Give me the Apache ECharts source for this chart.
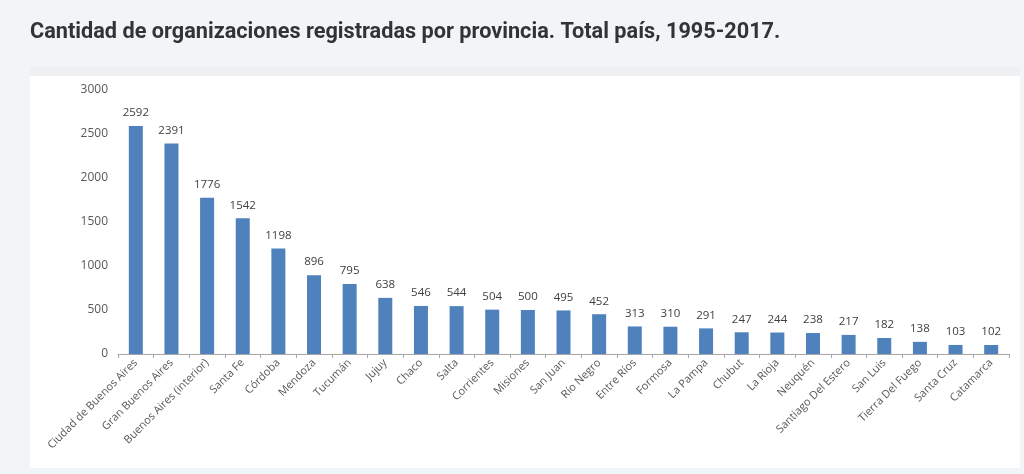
<!DOCTYPE html>
<html>
<head>
<meta charset="utf-8">
<script src="https://cdn.jsdelivr.net/npm/echarts@6/dist/echarts.min.js"></script>
<style>
  html, body { margin: 0; padding: 0; background: #f2f5f8; }
  #chart { width: 1024px; height: 474px; }
</style>
</head>
<body>
<div id="chart"></div>
<script>
// Organizaciones registradas por provincia, 1995-2017
const provincias = [
  'Ciudad de Buenos Aires', 'Gran Buenos Aires', 'Buenos Aires (interior)', 'Santa Fe',
  'Córdoba', 'Mendoza', 'Tucumán', 'Jujuy', 'Chaco', 'Salta', 'Corrientes', 'Misiones',
  'San Juan', 'Río Negro', 'Entre Ríos', 'Formosa', 'La Pampa', 'Chubut', 'La Rioja',
  'Neuquén', 'Santiago Del Estero', 'San Luis', 'Tierra Del Fuego', 'Santa Cruz', 'Catamarca'
];
const organizaciones = [
  2592, 2391, 1776, 1542, 1198, 896, 795, 638, 546, 544, 504, 500,
  495, 452, 313, 310, 291, 247, 244, 238, 217, 182, 138, 103, 102
];
const ejeYTicks = [0, 500, 1000, 1500, 2000, 2500, 3000];

const chart = echarts.init(document.getElementById('chart'), null, { renderer: 'canvas' });
const labelFont = 'Open Sans, Lato, sans-serif';

chart.setOption({
  backgroundColor: '#f2f5f8',
  animation: false,
  title: {
    text: 'Cantidad de organizaciones registradas por provincia. Total país, 1995-2017.',
    left: 25,
    top: 17,
    textStyle: { fontFamily: 'Roboto, sans-serif', fontWeight: 'bold', fontSize: 21.7, color: '#333333' }
  },
  graphic: [
    { type: 'rect', left: 30, top: 67, shape: { width: 990, height: 9 }, style: { fill: '#eef0f2' }, silent: true },
    { type: 'rect', left: 30, top: 76, shape: { width: 990, height: 392 }, style: { fill: '#ffffff' }, silent: true, z: -1 }
  ],
  grid: { left: 118, right: 15, top: 90, bottom: 120, containLabel: false },
  xAxis: {
    type: 'category',
    data: provincias,
    axisLine: { lineStyle: { color: '#a6a6a6', width: 1 } },
    axisTick: { show: true, alignWithLabel: false, length: 4, lineStyle: { color: '#a6a6a6' } },
    axisLabel: {
      interval: 0, rotate: 45, margin: 7,
      fontFamily: labelFont, fontSize: 11, color: '#595959'
    }
  },
  yAxis: {
    type: 'value',
    min: ejeYTicks[0],
    max: ejeYTicks[ejeYTicks.length - 1],
    interval: 500,
    axisLine: { show: false },
    axisTick: { show: false },
    splitLine: { show: false },
    axisLabel: {
      margin: 10, fontFamily: labelFont, fontSize: 12, color: '#595959',
      formatter: v => String(v)
    }
  },
  series: [{
    type: 'bar',
    data: organizaciones,
    barWidth: 14,
    itemStyle: { color: '#4f81bd' },
    label: {
      show: true, position: 'top', distance: 7,
      fontFamily: labelFont, fontSize: 11.5, color: '#404040'
    }
  }]
});
</script>
</body>
</html>
